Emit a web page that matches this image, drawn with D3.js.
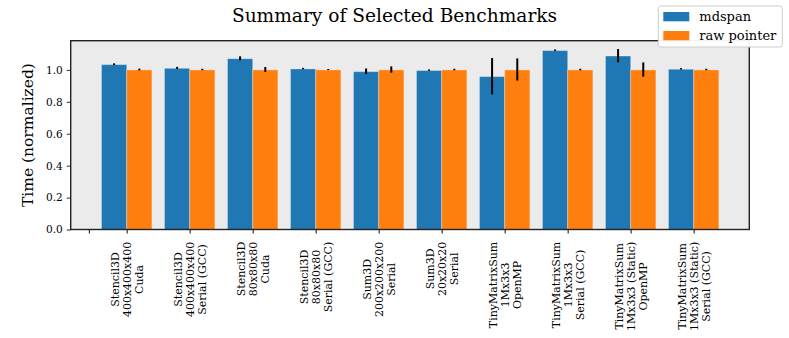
<!DOCTYPE html>
<html>
<head>
<meta charset="utf-8">
<script src="https://cdnjs.cloudflare.com/ajax/libs/d3/7.8.5/d3.min.js"></script>
<style>
  body { margin: 0; background: #fff; }
  svg text { font-family: "DejaVu Serif", serif; fill: #000; }
</style>
</head>
<body>
<div id="chart"></div>
<script>
// benchmark names, one entry per line of each tick label
var categories = [
    ["Stencil3D", "400x400x400", "Cuda"],
    ["Stencil3D", "400x400x400", "Serial (GCC)"],
    ["Stencil3D", "80x80x80", "Cuda"],
    ["Stencil3D", "80x80x80", "Serial (GCC)"],
    ["Sum3D", "200x200x200", "Serial"],
    ["Sum3D", "20x20x20", "Serial"],
    ["TinyMatrixSum", "1Mx3x3", "OpenMP"],
    ["TinyMatrixSum", "1Mx3x3", "Serial (GCC)"],
    ["TinyMatrixSum", "1Mx3x3 (Static)", "OpenMP"],
    ["TinyMatrixSum", "1Mx3x3 (Static)", "Serial (GCC)"]
];
var mdspanValues = [1.033, 1.010, 1.070, 1.006, 0.989, 0.996, 0.958, 1.121, 1.087, 1.004];
var mdspanErrors = [0.003, 0.004, 0.010, 0.002, 0.015, 0.002, 0.111, 0.002, 0.039, 0.002];
var rawValues    = [1.000, 1.000, 1.000, 1.000, 1.000, 1.000, 1.000, 1.000, 1.000, 1.000];
var rawErrors    = [0.003, 0.002, 0.013, 0.001, 0.017, 0.002, 0.067, 0.002, 0.042, 0.002];
var yTicks = [0.0, 0.2, 0.4, 0.6, 0.8, 1.0];
var extraTicks = [-0.6];
var seriesNames = ["mdspan", "raw pointer"];
var colors = ["#1f77b4", "#ff7f0e"];

var width = 789, height = 338;
var plot = { left: 70.7, right: 749.3, top: 40.7, bottom: 229.5 };
var barWidth = 0.4;

var svg = d3.select("#chart")
    .append("svg")
    .attr("width", width)
    .attr("height", height);

var xScale = d3.scaleLinear()
    .domain([-0.889, 9.883])
    .range([plot.left, plot.right]);

var yScale = d3.scaleLinear()
    .domain([0, 1.183])
    .range([plot.bottom, plot.top]);

// axes background
svg.append("rect")
    .attr("x", plot.left)
    .attr("y", plot.top)
    .attr("width", plot.right - plot.left)
    .attr("height", plot.bottom - plot.top)
    .attr("fill", "#ebebeb");

var series = [
    { values: mdspanValues, errors: mdspanErrors, offset: -barWidth / 2 },
    { values: rawValues, errors: rawErrors, offset: barWidth / 2 }
];

series.forEach(function(s, si) {
    var g = svg.append("g");
    g.selectAll("rect")
        .data(s.values)
        .enter()
        .append("rect")
        .attr("x", (d, i) => xScale(i + s.offset - barWidth / 2))
        .attr("y", d => yScale(d))
        .attr("width", xScale(barWidth) - xScale(0))
        .attr("height", d => yScale(0) - yScale(d))
        .attr("fill", colors[si])
        .attr("stroke", "rgba(255,255,255,0.3)")
        .attr("stroke-width", 1);
});

series.forEach(function(s) {
    svg.append("g").selectAll("line")
        .data(s.values)
        .enter()
        .append("line")
        .attr("x1", (d, i) => xScale(i + s.offset))
        .attr("x2", (d, i) => xScale(i + s.offset))
        .attr("y1", (d, i) => yScale(d - s.errors[i]))
        .attr("y2", (d, i) => yScale(d + s.errors[i]) - 0.8)
        .attr("stroke", "#000")
        .attr("stroke-width", 2);
});

// y axis
var yAxis = svg.append("g")
    .attr("transform", `translate(${plot.left},0)`)
    .call(d3.axisLeft(yScale).tickValues(yTicks).tickFormat(d3.format(".1f")).tickSize(4).tickPadding(4));
yAxis.select(".domain").remove();
yAxis.selectAll("line").attr("stroke", "#333").attr("stroke-width", 1);
yAxis.selectAll("text").style("font-family", "DejaVu Serif").style("font-size", "10.5px").attr("fill", "#000");

// x axis ticks
var tickPositions = extraTicks.concat(d3.range(categories.length).map(i => i));
var xAxis = svg.append("g")
    .attr("transform", `translate(0,${plot.bottom})`)
    .call(d3.axisBottom(xScale).tickValues(tickPositions).tickFormat("").tickSize(4));
xAxis.select(".domain").remove();
xAxis.selectAll("line").attr("stroke", "#333").attr("stroke-width", 1.2);

// rotated multi-line x labels
var labelTop = 241.7, lineGap = 12;
categories.forEach(function(lines, i) {
    var t = svg.append("text")
        .attr("transform", `translate(${xScale(i)},${labelTop}) rotate(-90)`)
        .style("font-size", "11px")
        .attr("text-anchor", "middle");
    var spans = lines.map((line, j) => t.append("tspan")
        .attr("y", (j - 1) * lineGap)
        .attr("dy", "0.35em")
        .text(line));
    var maxLen = d3.max(spans, sp => sp.node().getComputedTextLength());
    spans.forEach(sp => sp.attr("x", -maxLen / 2));
});

// spines
svg.append("rect")
    .attr("x", plot.left)
    .attr("y", plot.top)
    .attr("width", plot.right - plot.left)
    .attr("height", plot.bottom - plot.top)
    .attr("fill", "none")
    .attr("stroke", "#222")
    .attr("stroke-width", 1.4);

// title
svg.append("text")
    .attr("x", width / 2)
    .attr("y", 21.5)
    .attr("text-anchor", "middle")
    .style("font-size", "18.6px")
    .text("Summary of Selected Benchmarks");

// y label
svg.append("text")
    .attr("transform", `translate(33,${(plot.top + plot.bottom) / 2}) rotate(-90)`)
    .attr("text-anchor", "middle")
    .style("font-size", "15.5px")
    .text("Time (normalized)");

// legend
var legend = svg.append("g").attr("transform", "translate(658.3,6)");
legend.append("rect")
    .attr("width", 124)
    .attr("height", 41)
    .attr("rx", 2.5)
    .attr("fill", "rgba(255,255,255,0.95)")
    .attr("stroke", "#cccccc")
    .attr("stroke-width", 1);
seriesNames.forEach(function(name, i) {
    legend.append("rect")
        .attr("x", 5)
        .attr("y", 6 + i * 19)
        .attr("width", 26)
        .attr("height", 9.3)
        .attr("fill", colors[i]);
    legend.append("text")
        .attr("x", 41)
        .attr("y", 10.7 + i * 19)
        .attr("dy", "0.35em")
        .style("font-size", "13px")
        .text(name);
});
</script>
</body>
</html>
